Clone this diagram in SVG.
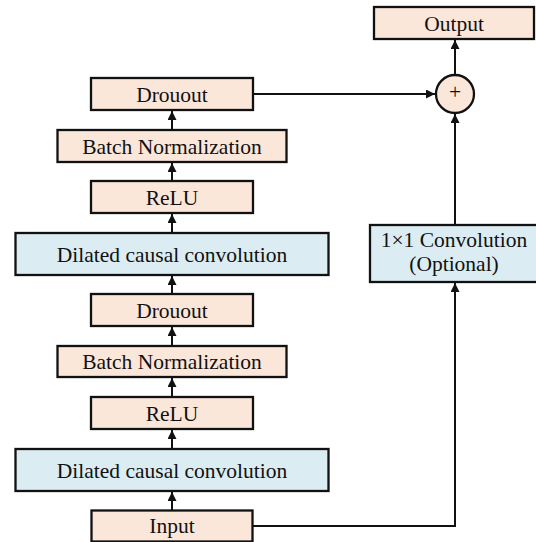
<svg xmlns="http://www.w3.org/2000/svg" width="536" height="542" viewBox="0 0 536 542">
<style>
.box{stroke:#111;stroke-width:2.3}
.peach{fill:#FBE7DA}
.blue{fill:#DBEDF3}
.t{font-family:"Liberation Serif","Times New Roman",serif;font-size:21.5px;fill:#111;text-anchor:middle}
.c{fill:none;stroke:#111;stroke-width:2}
</style>
<defs>
<marker id="ah" viewBox="0 0 10 10" refX="10" refY="5" markerWidth="10" markerHeight="9" orient="auto" markerUnits="userSpaceOnUse">
<path d="M0,0 L10,5 L0,10 z" fill="#111"/>
</marker>
</defs>
<rect width="536" height="542" fill="#fff"/>
<g id="connectors">
<line class="c" x1="172" y1="510" x2="172" y2="492" marker-end="url(#ah)"/>
<line class="c" x1="172" y1="449" x2="172" y2="430" marker-end="url(#ah)"/>
<line class="c" x1="172" y1="397" x2="172" y2="378" marker-end="url(#ah)"/>
<line class="c" x1="172" y1="346" x2="172" y2="327" marker-end="url(#ah)"/>
<line class="c" x1="172" y1="294" x2="172" y2="276" marker-end="url(#ah)"/>
<line class="c" x1="172" y1="233" x2="172" y2="214" marker-end="url(#ah)"/>
<line class="c" x1="172" y1="181" x2="172" y2="163" marker-end="url(#ah)"/>
<line class="c" x1="172" y1="130" x2="172" y2="111" marker-end="url(#ah)"/>
<line class="c" x1="253" y1="94" x2="435" y2="94" marker-end="url(#ah)"/>
<line class="c" x1="455" y1="75" x2="455" y2="40" marker-end="url(#ah)"/>
<line class="c" x1="455" y1="225" x2="455" y2="114" marker-end="url(#ah)"/>
<polyline class="c" points="253,526 455,526 455,283" marker-end="url(#ah)"/>
</g>
<g id="output"><rect class="box peach" x="374" y="7" width="160" height="32"/><text class="t" x="454" y="30.5">Output</text></g>
<g id="add"><circle class="box peach" cx="455" cy="94" r="19"/><text class="t" x="455" y="99">+</text></g>
<g id="dropout1"><rect class="box peach" x="91" y="78" width="162" height="32"/><text class="t" x="172" y="101.5">Drouout</text></g>
<g id="bn1"><rect class="box peach" x="57.5" y="130" width="229" height="32"/><text class="t" x="172" y="153.5">Batch Normalization</text></g>
<g id="relu1"><rect class="box peach" x="91" y="181" width="162" height="32"/><text class="t" x="172" y="204.5">ReLU</text></g>
<g id="dconv1"><rect class="box blue" x="15.5" y="233" width="313" height="42"/><text class="t" x="172" y="261.5">Dilated causal convolution</text></g>
<g id="conv1x1"><rect class="box blue" x="370" y="225" width="170" height="57"/><text class="t" x="454" y="247">1×1 Convolution</text><text class="t" x="454" y="271">(Optional)</text></g>
<g id="dropout2"><rect class="box peach" x="91" y="294" width="162" height="32"/><text class="t" x="172" y="317.5">Drouout</text></g>
<g id="bn2"><rect class="box peach" x="57.5" y="346" width="229" height="31"/><text class="t" x="172" y="369">Batch Normalization</text></g>
<g id="relu2"><rect class="box peach" x="91" y="397" width="162" height="32"/><text class="t" x="172" y="420.5">ReLU</text></g>
<g id="dconv2"><rect class="box blue" x="15.5" y="449" width="313" height="42"/><text class="t" x="172" y="477.5">Dilated causal convolution</text></g>
<g id="input"><rect class="box peach" x="91.5" y="510.5" width="161" height="31"/><text class="t" x="172" y="533">Input</text></g>
</svg>
